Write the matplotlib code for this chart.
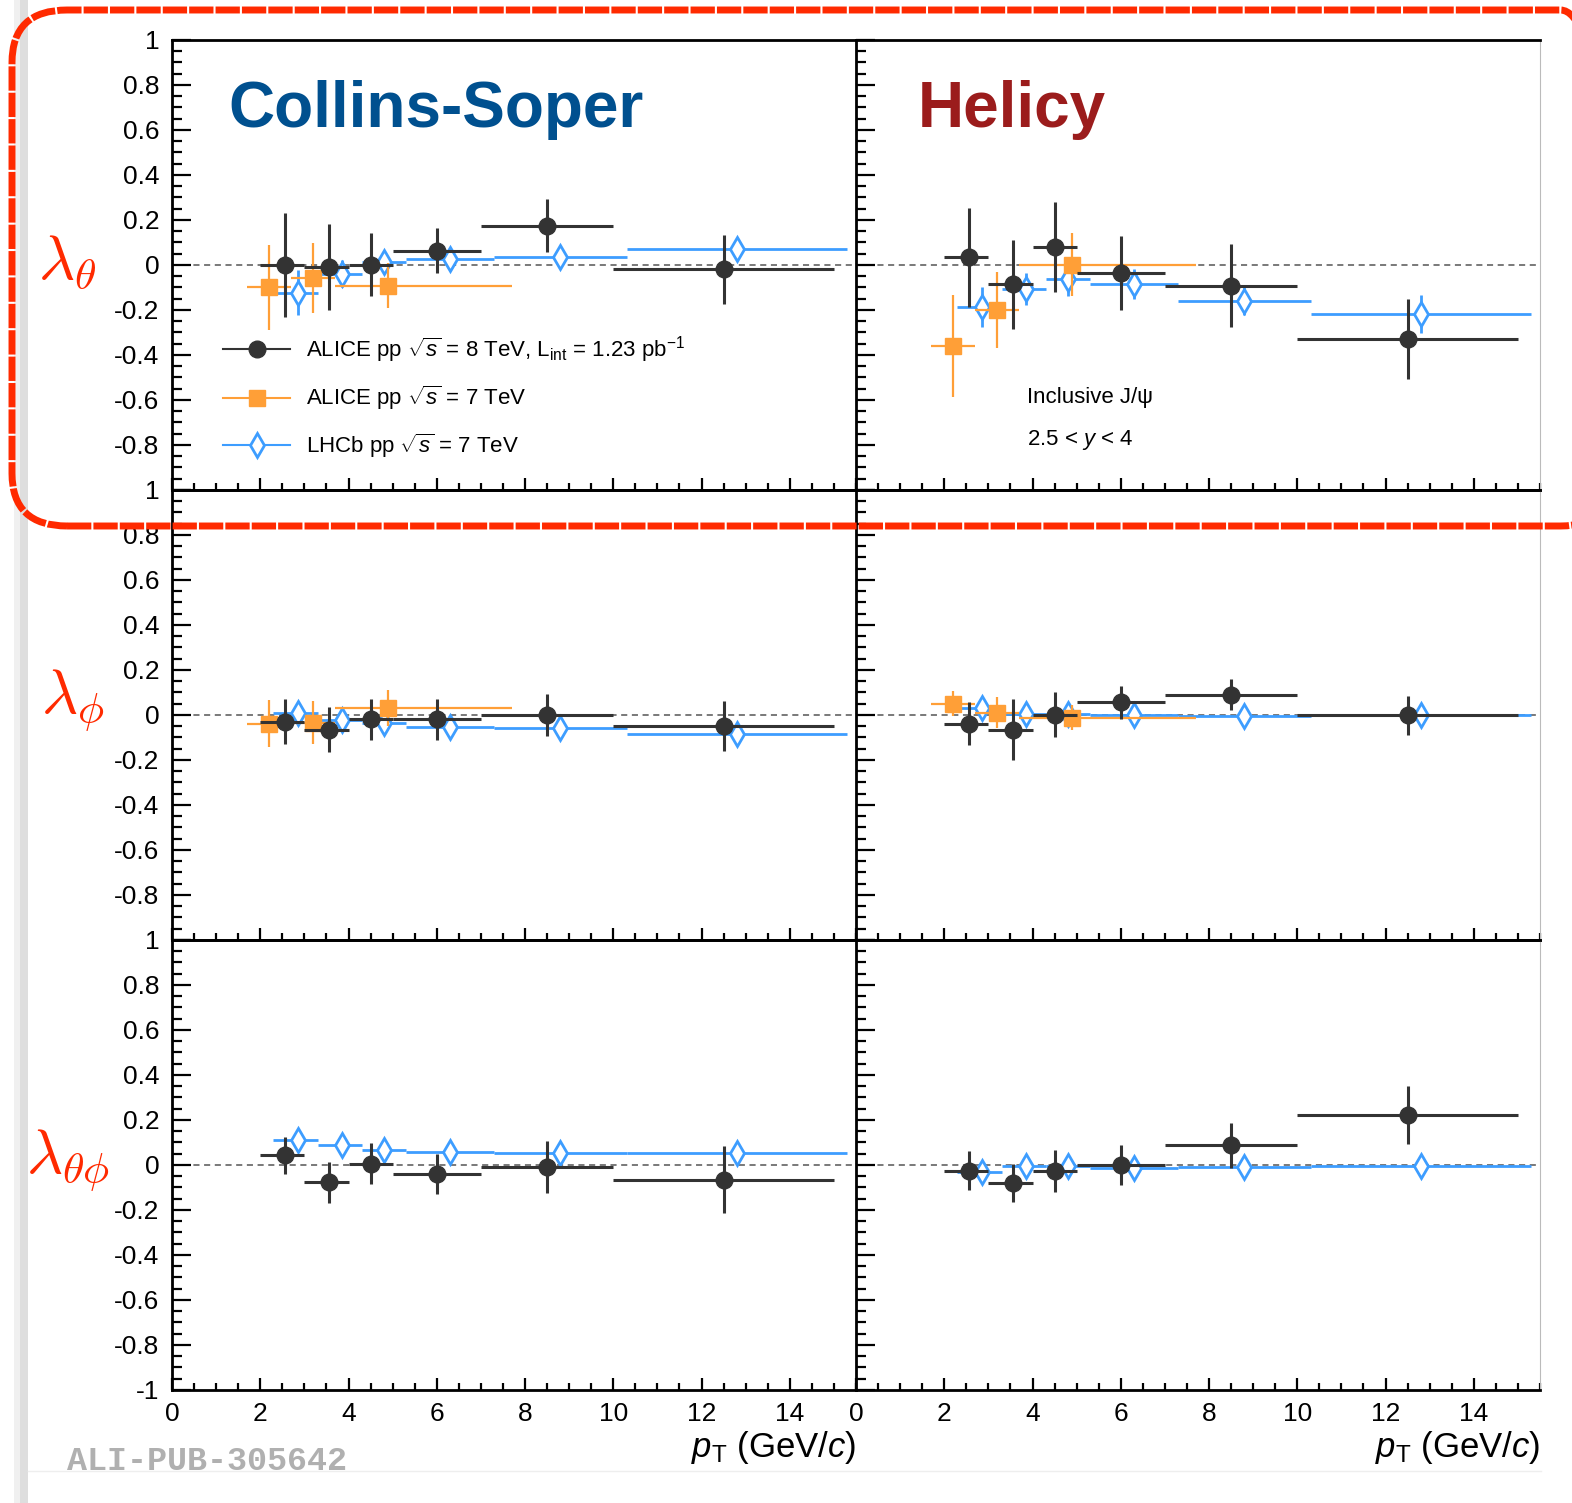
import numpy as np
import matplotlib.pyplot as plt
from matplotlib.lines import Line2D
from matplotlib.patches import FancyBboxPatch, Rectangle
from matplotlib.ticker import MultipleLocator

plt.rcParams['font.family'] = ['Liberation Sans', 'DejaVu Sans']
plt.rcParams['mathtext.fontset'] = 'custom'
plt.rcParams['mathtext.rm'] = 'Liberation Sans'
plt.rcParams['mathtext.it'] = 'Liberation Sans:italic'
plt.rcParams['mathtext.bf'] = 'Liberation Sans:bold'

# pT bins (GeV/c) as drawn
pt_a8 = [2.55, 3.55, 4.5, 6.0, 8.5, 12.5]
lo_a8 = [2.0, 3.0, 4.0, 5.0, 7.0, 10.0]
hi_a8 = [3.0, 4.0, 5.0, 7.0, 10.0, 15.0]
pt_a7 = [2.2, 3.2, 4.9]
lo_a7 = [1.7, 2.7, 3.7]
hi_a7 = [2.7, 3.7, 7.7]
pt_lhcb = [2.85, 3.85, 4.8, 6.3, 8.8, 12.8]
lo_lhcb = [2.3, 3.3, 4.3, 5.3, 7.3, 10.3]
hi_lhcb = [3.3, 4.3, 5.3, 7.3, 10.3, 15.3]

# lambda_theta, Collins-Soper
cs_th_a8 = [0.0, -0.01, 0.0, 0.063, 0.174, -0.02]
cs_th_a8_err = [0.23, 0.19, 0.14, 0.10, 0.118, 0.155]
cs_th_a7 = [-0.10, -0.059, -0.092]
cs_th_a7_err = [0.19, 0.155, 0.10]
cs_th_lhcb = [-0.124, -0.04, 0.012, 0.027, 0.034, 0.071]
cs_th_lhcb_err = [0.10, 0.06, 0.04, 0.03, 0.03, 0.05]
# lambda_theta, helicity
hx_th_a8 = [0.034, -0.086, 0.081, -0.037, -0.092, -0.328]
hx_th_a8_err = [0.22, 0.197, 0.20, 0.164, 0.185, 0.178]
hx_th_a7 = [-0.36, -0.20, 0.0]
hx_th_a7_err = [0.227, 0.168, 0.14]
hx_th_lhcb = [-0.187, -0.106, -0.062, -0.084, -0.158, -0.217]
hx_th_lhcb_err = [0.09, 0.07, 0.075, 0.065, 0.066, 0.085]
# lambda_phi
cs_ph_a8 = [-0.029, -0.065, -0.019, -0.019, 0.0, -0.05]
cs_ph_a8_err = [0.098, 0.10, 0.09, 0.09, 0.093, 0.11]
cs_ph_a7 = [-0.038, -0.034, 0.032]
cs_ph_a7_err = [0.105, 0.095, 0.08]
cs_ph_lhcb = [0.01, -0.022, -0.034, -0.053, -0.059, -0.085]
cs_ph_lhcb_err = [0.05, 0.03, 0.03, 0.025, 0.025, 0.04]
hx_ph_a8 = [-0.038, -0.066, 0.0, 0.057, 0.091, -0.001]
hx_ph_a8_err = [0.095, 0.135, 0.10, 0.073, 0.068, 0.087]
hx_ph_a7 = [0.051, 0.01, -0.012]
hx_ph_a7_err = [0.055, 0.07, 0.055]
hx_ph_lhcb = [0.029, 0.003, 0.003, 0.0, -0.004, 0.0]
hx_ph_lhcb_err = [0.04, 0.02, 0.03, 0.02, 0.03, 0.03]
# lambda_theta_phi
cs_tp_a8 = [0.043, -0.077, 0.006, -0.04, -0.01, -0.065]
cs_tp_a8_err = [0.083, 0.09, 0.09, 0.09, 0.115, 0.148]
cs_tp_lhcb = [0.11, 0.087, 0.068, 0.058, 0.055, 0.055]
cs_tp_lhcb_err = [0.05, 0.03, 0.035, 0.03, 0.03, 0.03]
hx_tp_a8 = [-0.025, -0.08, -0.027, 0.0, 0.087, 0.222]
hx_tp_a8_err = [0.087, 0.083, 0.093, 0.089, 0.10, 0.128]
hx_tp_lhcb = [-0.03, -0.003, -0.003, -0.013, -0.009, -0.003]
hx_tp_lhcb_err = [0.025, 0.02, 0.02, 0.02, 0.02, 0.02]

y_ticks = [-1, -0.8, -0.6, -0.4, -0.2, 0, 0.2, 0.4, 0.6, 0.8, 1]

BLACK = '#333333'
ORANGE = '#ff9f37'
BLUE = '#3d9dff'


def xerr(pt, lo, hi):
    pt = np.array(pt)
    return [pt - np.array(lo), np.array(hi) - pt]


def draw(ax, a8, a8e, lhcb, lhcbe, a7=None, a7e=None):
    ax.axhline(0, color='#555555', ls=(0, (4, 3)), lw=1.1, zorder=1)
    ax.errorbar(pt_lhcb, lhcb, yerr=lhcbe, xerr=xerr(pt_lhcb, lo_lhcb, hi_lhcb),
                fmt='d', color=BLUE, mfc='white', mec=BLUE, ms=12, mew=2,
                elinewidth=2, capsize=0, zorder=3)
    if a7 is not None:
        ax.errorbar(pt_a7, a7, yerr=a7e, xerr=xerr(pt_a7, lo_a7, hi_a7),
                    fmt='s', color=ORANGE, ms=12, elinewidth=1.6, capsize=0, zorder=4)
    ax.errorbar(pt_a8, a8, yerr=a8e, xerr=xerr(pt_a8, lo_a8, hi_a8),
                fmt='o', color=BLACK, ms=12, elinewidth=2.2, capsize=0, zorder=5)


fig = plt.figure(figsize=(15.72, 15.03), dpi=100)

# slide shadow on the left
fig.patches.append(Rectangle((0.009, 0), 0.004, 1, transform=fig.transFigure,
                             color='#f0f0f0', lw=0, zorder=0))
fig.patches.append(Rectangle((0.013, 0), 0.005, 1, transform=fig.transFigure,
                             color='#dedede', lw=0, zorder=0))
fig.add_artist(Line2D([0.018, 0.98], [0.021, 0.021], transform=fig.transFigure,
                      color='#eeeeee', lw=1))

xl = [172 / 1572, 856 / 1572]
w = [684 / 1572, 684 / 1572]
h = 450 / 1503
bottoms = [0.6740, 0.3746, 0.0752]

panels = [
    [(cs_th_a8, cs_th_a8_err, cs_th_lhcb, cs_th_lhcb_err, cs_th_a7, cs_th_a7_err),
     (hx_th_a8, hx_th_a8_err, hx_th_lhcb, hx_th_lhcb_err, hx_th_a7, hx_th_a7_err)],
    [(cs_ph_a8, cs_ph_a8_err, cs_ph_lhcb, cs_ph_lhcb_err, cs_ph_a7, cs_ph_a7_err),
     (hx_ph_a8, hx_ph_a8_err, hx_ph_lhcb, hx_ph_lhcb_err, hx_ph_a7, hx_ph_a7_err)],
    [(cs_tp_a8, cs_tp_a8_err, cs_tp_lhcb, cs_tp_lhcb_err, None, None),
     (hx_tp_a8, hx_tp_a8_err, hx_tp_lhcb, hx_tp_lhcb_err, None, None)],
]

axes = {}
for r in range(3):
    for c in range(2):
        ax = fig.add_axes([xl[c], bottoms[r], w[c], h])
        axes[(r, c)] = ax
        draw(ax, *panels[r][c])
        ax.set_xlim(0, 15.5)
        ax.set_ylim(-1, 1)
        ax.patch.set_alpha(0)
        for s in ['left', 'bottom', 'top']:
            ax.spines[s].set_linewidth(2)
            ax.spines[s].set_color('black')
        if c == 0:
            ax.spines['right'].set_visible(False)
        else:
            ax.spines['right'].set_color('#bbbbbb')
            ax.spines['right'].set_linewidth(0.8)
        ax.xaxis.set_major_locator(MultipleLocator(2))
        ax.xaxis.set_minor_locator(MultipleLocator(0.5))
        ax.yaxis.set_minor_locator(MultipleLocator(0.05))
        ax.set_yticks(y_ticks)
        ax.tick_params(axis='both', which='both', direction='in', top=False, right=False,
                       color='black', width=1.6)
        ax.tick_params(axis='y', which='major', length=14)
        ax.tick_params(axis='y', which='minor', length=7)
        ax.tick_params(axis='x', which='major', length=9)
        ax.tick_params(axis='x', which='minor', length=5)
        ax.tick_params(axis='both', labelsize=19, pad=9)
        if c == 0:
            ylabels = [f'{v:g}' for v in y_ticks]
            if r < 2:
                ylabels[0] = ''
            ax.set_yticklabels(ylabels)
        else:
            ax.set_yticklabels([])
        if r == 2:
            ax.set_xticks(np.arange(0, 15, 2))
            ax.set_xlabel(r'$p_{\rm T}$ (GeV/$c$)', fontsize=25, loc='right', labelpad=2)
        else:
            ax.set_xticklabels([])

# frame titles
axes[(0, 0)].text(0.082, 0.845, 'Collins-Soper', transform=axes[(0, 0)].transAxes,
                  fontsize=46, fontweight='bold', color='#00508f', va='center')
axes[(0, 1)].text(0.09, 0.845, 'Helicy', transform=axes[(0, 1)].transAxes,
                  fontsize=46, fontweight='bold', color='#9b1c1c', va='center')

# legend
handles = [Line2D([0], [0], color=BLACK, lw=1.5, marker='o', ms=12),
           Line2D([0], [0], color=ORANGE, lw=1.5, marker='s', ms=12),
           Line2D([0], [0], color=BLUE, lw=1.5, marker='d', ms=12, mfc='white', mew=2)]
labels = [r'ALICE pp $\sqrt{s}$ = 8 TeV, L$_{\rm int}$ = 1.23 pb$^{-1}$',
          r'ALICE pp $\sqrt{s}$ = 7 TeV',
          r'LHCb pp $\sqrt{s}$ = 7 TeV']
axes[(0, 0)].legend(handles, labels, loc='upper left', bbox_to_anchor=(0.075, 0.345),
                    frameon=False, fontsize=16, handlelength=3.0, handletextpad=0.7,
                    labelspacing=0.85, borderpad=0, borderaxespad=0, numpoints=1)

axes[(0, 1)].text(0.25, 0.205, r'Inclusive J/ψ', transform=axes[(0, 1)].transAxes,
                  fontsize=16, va='center')
axes[(0, 1)].text(0.25, 0.11, r'2.5 < $y$ < 4', transform=axes[(0, 1)].transAxes,
                  fontsize=16, va='center')

# row labels
red = '#ff2a00'
fig.text(0.043, 1 - 262 / 1503, r'$\lambda_{\theta}$', fontsize=45, color=red,
         ha='center', va='center', math_fontfamily='cm')
fig.text(0.046, 1 - 700 / 1503, r'$\lambda_{\phi}$', fontsize=45, color=red,
         ha='center', va='center', math_fontfamily='cm')
fig.text(0.043, 1 - 1160 / 1503, r'$\lambda_{\theta\phi}$', fontsize=45, color=red,
         ha='center', va='center', math_fontfamily='cm')

fig.text(67 / 1572, 1 - 1462 / 1503, 'ALI-PUB-305642', fontsize=24, color='#b0b0b0',
         family='Liberation Mono', fontweight='bold', va='center')

# highlight box around the first row
box = FancyBboxPatch((12 / 1572, 1 - 526 / 1503), 1.02, 516 / 1503,
                     boxstyle='round,pad=0,rounding_size=0.035', transform=fig.transFigure,
                     fill=False, ec=red, lw=5, ls=(0, (3.5, 0.3)), zorder=10, clip_on=False)
fig.patches.append(box)

fig.savefig('out.png', dpi=100)
